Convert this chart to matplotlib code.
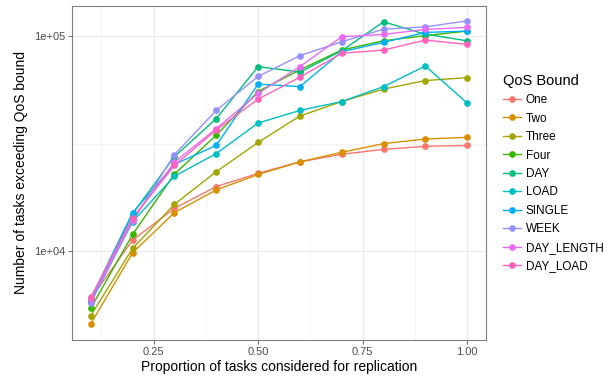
import numpy as np
import matplotlib
matplotlib.use("Agg")
import matplotlib.pyplot as plt
from matplotlib.lines import Line2D
from matplotlib.ticker import FixedLocator, NullFormatter

plt.rcParams['font.family'] = ['Liberation Sans', 'DejaVu Sans']

# proportion of tasks considered for replication
proportions = [0.1, 0.2, 0.3, 0.4, 0.5, 0.6, 0.7, 0.8, 0.9, 1.0]

bound_names = ['One', 'Two', 'Three', 'Four', 'DAY', 'LOAD', 'SINGLE',
               'WEEK', 'DAY_LENGTH', 'DAY_LOAD']

one = [6000, 11250, 15800, 19950, 22970, 26000, 28200, 29700, 30700, 31000]
two = [4590, 9820, 15100, 19240, 22700, 26000, 28800, 31600, 33200, 33800]
three = [5010, 10290, 16500, 23400, 32000, 42500, 49600, 56700, 62100, 64100]
four = [5430, 11950, 22800, 34600, 55200, 69700, 86100, 95100, 100500, 105500]
day = [5900, 14900, 27500, 41300, 72100, 68000, 85500, 116500, 102000, 95100]
load = [5800, 13700, 22300, 28400, 39400, 45100, 49600, 58200, 72600, 48800]
single = [6000, 15100, 25300, 31000, 59800, 58200, 84600, 93500, 104000, 105500]
week = [5740, 13800, 28100, 45100, 64900, 81100, 94100, 107700, 110400, 117700]
day_length = [6000, 14000, 25900, 37100, 54100, 72100, 99300, 101800, 107400, 109700]
day_load = [6100, 14300, 25000, 36600, 50900, 64400, 83200, 86100, 95800, 91500]

series = [one, two, three, four, day, load, single, week, day_length, day_load]

# ggplot default hue palette for 10 groups
colours = ['#F8766D', '#D89000', '#A3A500', '#39B600', '#00BF7D',
           '#00BFC4', '#00B0F6', '#9590FF', '#E76BF3', '#FF62BC']

fig = plt.figure(figsize=(6.13, 3.77), dpi=100)
ax = fig.add_axes([72 / 613, 1 - 340 / 377, (486 - 72) / 613, (340 - 6) / 377])

# lines first, points on top (like geom_line + geom_point)
for vals, col in zip(series, colours):
    ax.plot(proportions, vals, color=col, lw=1.0, zorder=3)
for vals, col in zip(series, colours):
    ax.plot(proportions, vals, linestyle='none', marker='o', ms=3.8,
            color=col, zorder=4)

ax.set_yscale('log')
ax.set_xlim(0.055, 1.045)
ax.set_ylim(10 ** 3.586, 10 ** 5.14)

ax.xaxis.set_major_locator(FixedLocator([0.25, 0.5, 0.75, 1.0]))
ax.set_xticklabels(['0.25', '0.50', '0.75', '1.00'])
ax.xaxis.set_minor_locator(FixedLocator([0.125, 0.375, 0.625, 0.875]))
ax.yaxis.set_major_locator(FixedLocator([1e4, 1e5]))
ax.set_yticklabels(['1e+04', '1e+05'])
ax.yaxis.set_minor_locator(FixedLocator([10 ** 3.5, 10 ** 4.5]))
ax.yaxis.set_minor_formatter(NullFormatter())

ax.grid(True, which='major', color='#EBEBEB', lw=1.0, zorder=0)
ax.grid(True, which='minor', color='#F2F2F2', lw=0.6, zorder=0)
ax.set_axisbelow(True)

ax.tick_params(which='major', length=3, width=0.6, color='#555555',
               labelsize=8, labelcolor='#4D4D4D', pad=2)
ax.tick_params(which='minor', length=0)
for sp in ax.spines.values():
    sp.set_color('#7F7F7F')
    sp.set_linewidth(0.8)

ax.set_xlabel('Proportion of tasks considered for replication', fontsize=10, labelpad=2)
ax.set_ylabel('Number of tasks exceeding QoS bound', fontsize=10, labelpad=4)

handles = [Line2D([], [], color=c, lw=1.0, marker='o', ms=3.8) for c in colours]
leg = ax.legend(handles, bound_names, title='QoS Bound', loc='center left',
                bbox_to_anchor=(1.03, 0.5), frameon=False, fontsize=8.5,
                title_fontsize=10.5, handlelength=1.5, handletextpad=0.4,
                labelspacing=0.55, borderaxespad=0)
leg._legend_box.align = 'left'

fig.savefig('out.png', dpi=100)
